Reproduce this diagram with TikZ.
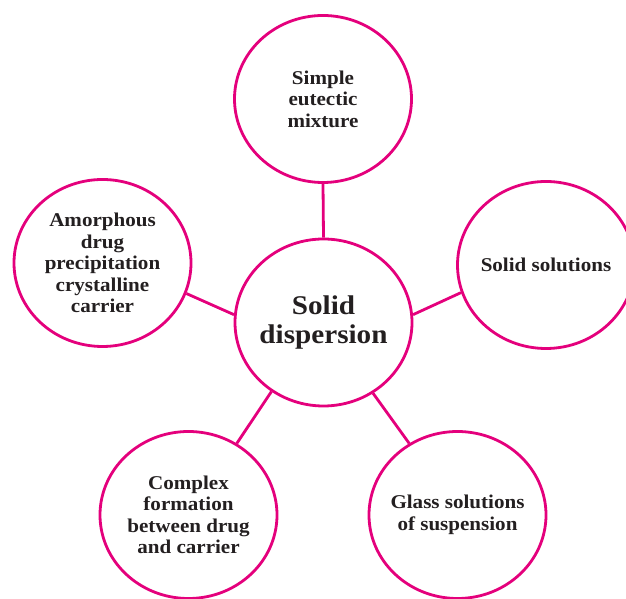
\documentclass[tikz,border=0pt]{standalone}
\usepackage{fontspec}
\setmainfont{Liberation Serif}[FakeStretch=1.08]
\usetikzlibrary{positioning,shapes.geometric}
\definecolor{ringpink}{RGB}{228,0,124}
\definecolor{inkgray}{RGB}{35,31,32}

\begin{document}
\begin{tikzpicture}[
    x = 1pt, y = 1pt, % one unit per pixel of the page
    spoke/.style = {draw = ringpink, line width = 2.8pt}, % links to the hub
    ]

    \tikzset{leaf/.style={
    ellipse,
    draw = ringpink,
    line width = 2.8pt,
    fill = white,
    minimum width = 177pt,
    minimum height = 167pt,
    inner sep = -20pt, % keep long lines from widening the ring
    align = center,
    text = inkgray,
    font = \bfseries\fontsize{19.5}{21.5}\selectfont
    },
    hub/.style={leaf, font = \bfseries\fontsize{27}{29.5}\selectfont}
    }
    \path[use as bounding box, clip] (0,0) rectangle (626,599);

    \node[hub] (centre) at (323.5,276.5) {Solid\\dispersion};
    \node[leaf] (simple) at (323,500) {Simple\\eutectic\\mixture};
    \node[leaf] (amorph) at (102.5,336) {Amorphous\\drug\\precipitation\\crystalline\\carrier};
    \node[leaf] (solsol) at (546,334) {Solid solutions};
    \node[leaf] (complex) at (188.5,84) {Complex\\formation\\between drug\\and carrier};
    \node[leaf] (glass) at (457.5,84) {Glass solutions\\of suspension};

    \path[spoke] (centre.90) edge (simple.270);
    \path[spoke] (centre.175) edge (amorph.-20);
    \path[spoke] (centre.5) edge (solsol.198);
    \path[spoke] (centre.233) edge (complex.56);
    \path[spoke] (centre.305) edge (glass.124);
\end{tikzpicture}
\end{document}
